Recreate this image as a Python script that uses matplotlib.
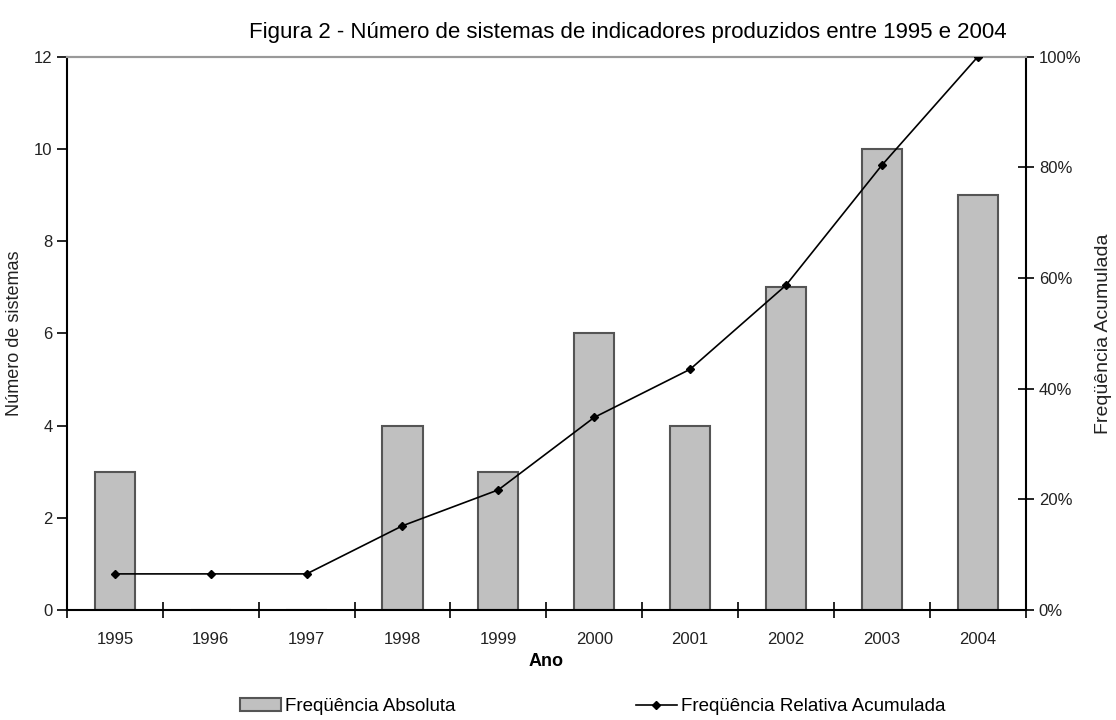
import numpy as np
import matplotlib
matplotlib.use("Agg")
import matplotlib.pyplot as plt
from matplotlib.ticker import FuncFormatter, FixedLocator

plt.rcParams['font.family'] = ['Liberation Sans', 'DejaVu Sans']

anos = ['1995', '1996', '1997', '1998', '1999', '2000', '2001', '2002', '2003', '2004']
freq_absoluta = [3, 0, 0, 4, 3, 6, 4, 7, 10, 9]
# cumulative share of the total, in percent
freq_acumulada = [6.5, 6.5, 6.5, 15.2, 21.7, 34.8, 43.5, 58.7, 80.4, 100.0]

fig = plt.figure(figsize=(11.16, 7.2), dpi=100)
ax = fig.add_axes([0.060, 0.153, 0.859, 0.768])
ax2 = ax.twinx()

x = np.arange(len(anos))
barras = ax.bar(x, freq_absoluta, width=0.42, color='#c0c0c0',
                edgecolor='#555555', linewidth=1.5, zorder=2,
                label='Freqüência Absoluta')
linha, = ax2.plot(x, np.array(freq_acumulada) / 100, color='black', lw=1.2,
                  marker='D', markersize=4.5, zorder=3,
                  label='Freqüência Relativa Acumulada')

ax.set_xlim(-0.5, len(anos) - 0.5)
ax.set_ylim(0, 12)
ax2.set_ylim(0, 1)

ax.set_yticks(range(0, 13, 2))
ax2.set_yticks(np.linspace(0, 1, 6))
ax2.yaxis.set_major_formatter(FuncFormatter(lambda v, p: f'{v * 100:.0f}%'))

# year labels centred, tick marks on the category boundaries
ax.set_xticks(x)
ax.set_xticklabels(anos)
ax.tick_params(axis='x', which='major', length=0, pad=16, labelsize=12,
               labelcolor='#222222')
ax.xaxis.set_minor_locator(FixedLocator(np.arange(-0.5, len(anos), 1.0)))
ax.tick_params(axis='x', which='minor', direction='inout', length=11, width=1.2)
ax.tick_params(axis='y', direction='out', length=7, width=1.2, labelsize=12,
               labelcolor='#222222')
ax2.tick_params(axis='y', direction='inout', length=12, width=1.2, labelsize=12,
                labelcolor='#222222')

for a in (ax, ax2):
    a.spines['top'].set_color('#999999')
    a.spines['top'].set_linewidth(1.5)
ax.spines['left'].set_linewidth(1.5)
ax.spines['bottom'].set_linewidth(1.5)
ax2.spines['right'].set_linewidth(1.5)
ax.spines['right'].set_visible(False)
ax2.spines['left'].set_visible(False)
ax2.spines['bottom'].set_visible(False)

ax.set_xlabel('Ano', fontsize=13, fontweight='bold', labelpad=4)
ax.set_ylabel('Número de sistemas', fontsize=13, color='#222222', labelpad=8)
ax2.set_ylabel('Freqüência Acumulada', fontsize=14, color='#222222', labelpad=10)

fig.text(0.563, 0.955,
         'Figura 2 - Número de sistemas de indicadores produzidos entre 1995 e 2004',
         fontsize=16, ha='center', va='center')

fig.legend([barras, linha], ['Freqüência Absoluta', 'Freqüência Relativa Acumulada'],
           loc='lower center', bbox_to_anchor=(0.531, -0.017), ncol=2, frameon=False,
           fontsize=13.5, handlelength=2.2, columnspacing=9.6, handletextpad=0.2)

fig.savefig('out.png', dpi=100)
